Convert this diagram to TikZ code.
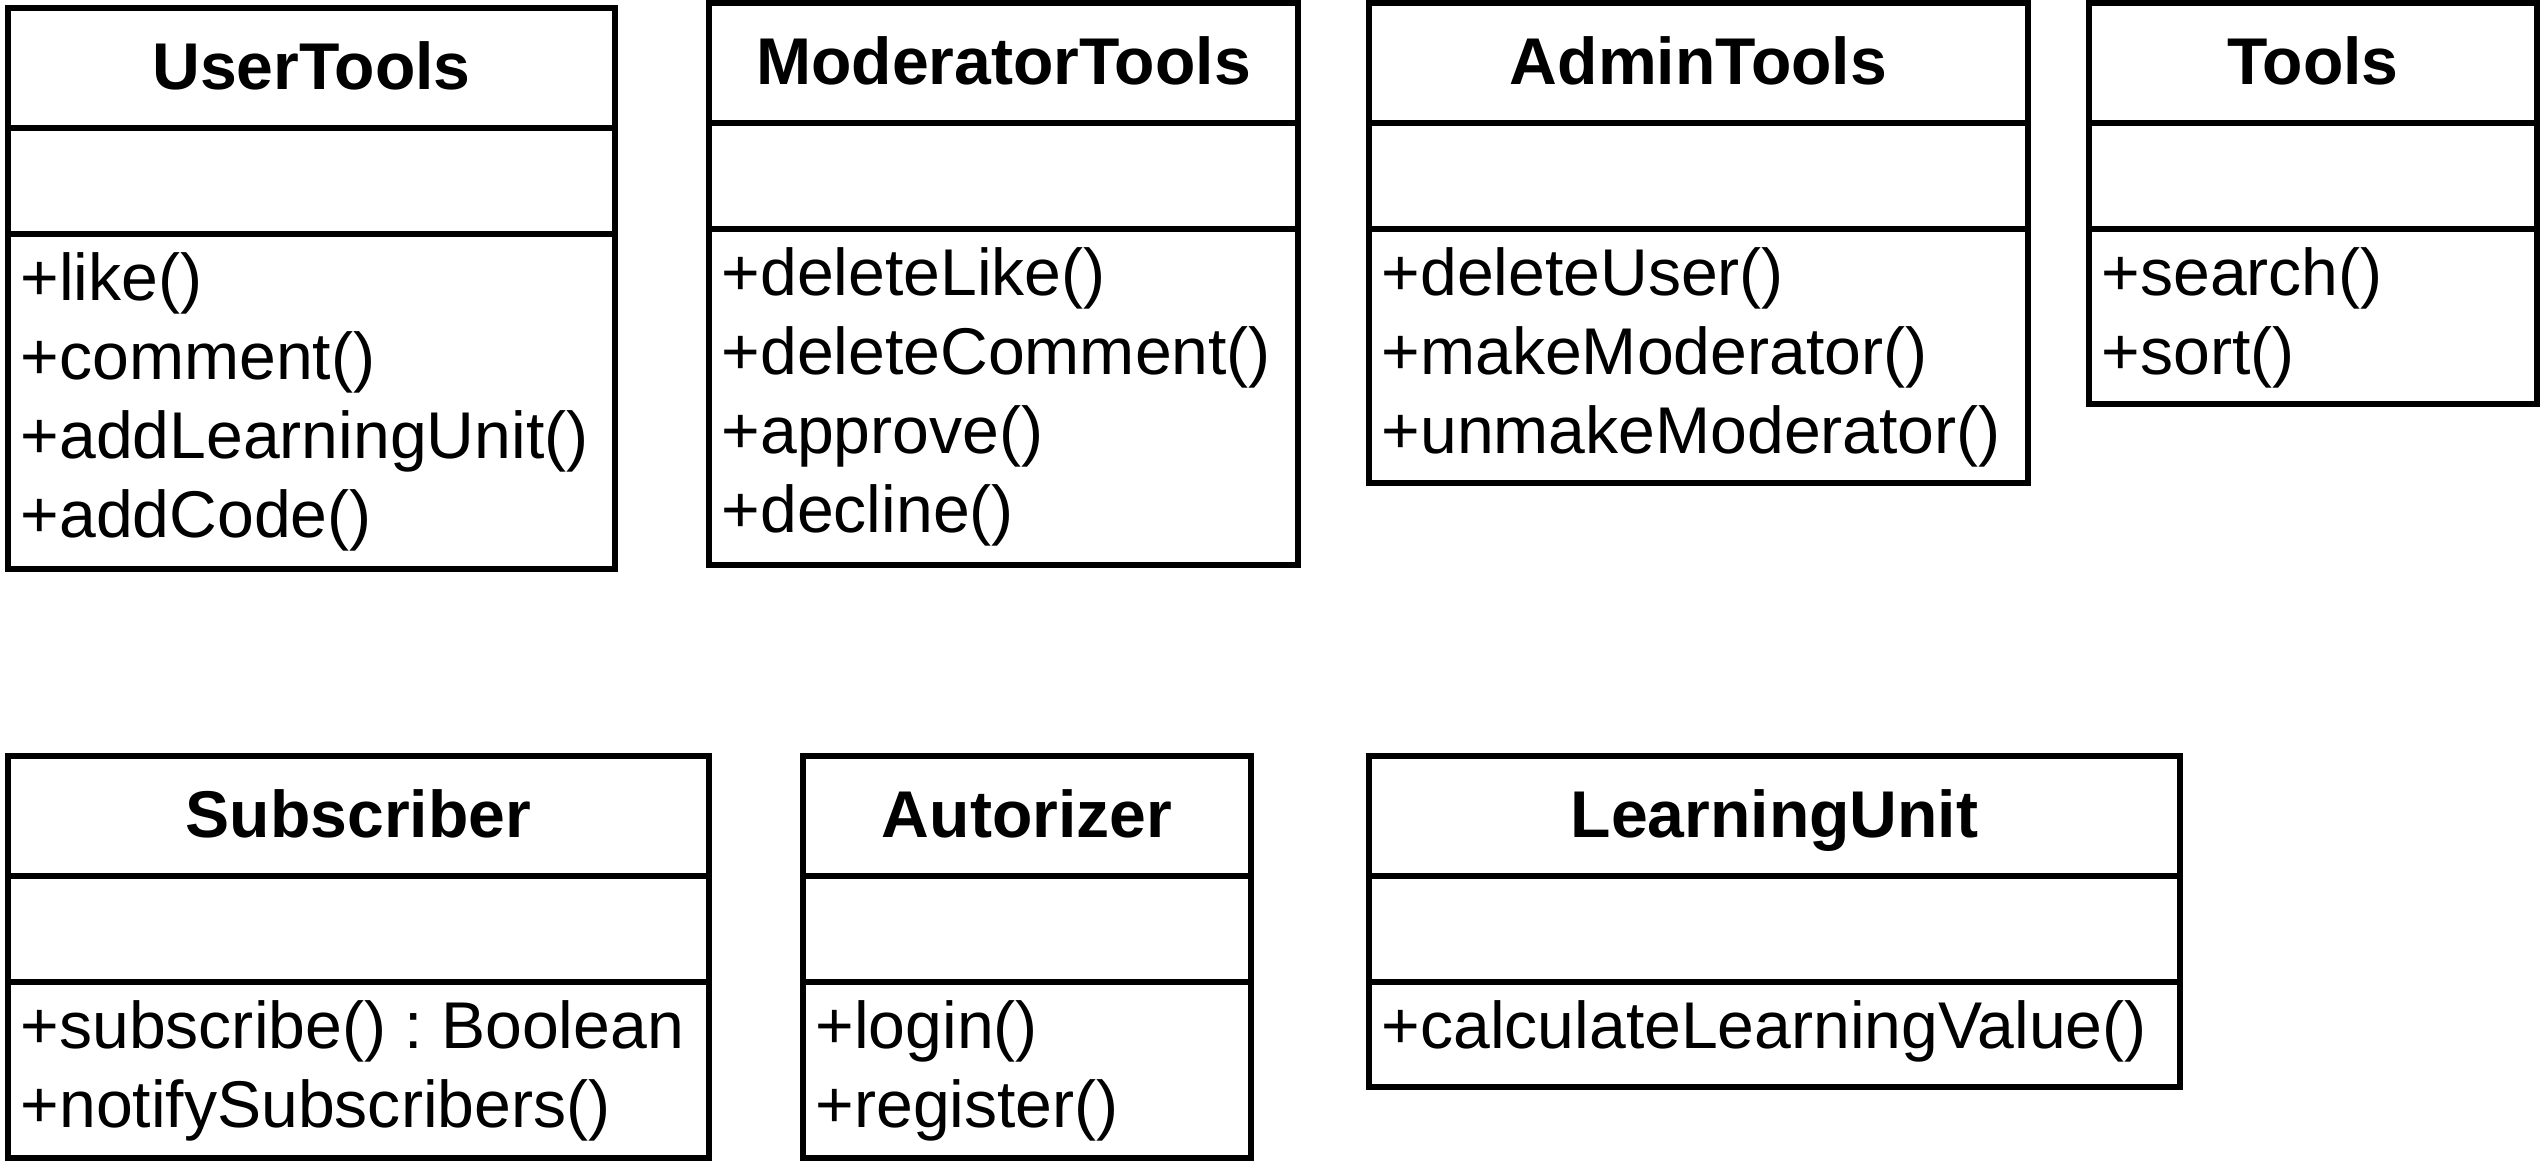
\documentclass[tikz,border=0pt]{standalone}
\usepackage{fontspec}
\setmainfont{Liberation Sans}
\usetikzlibrary{fit}

% One UML class: id, left, top, right, bottom, class name, list of operations
\newcommand{\umlclass}[7]{%
  \node[compart, fit={(#2,#3) (#4,#3+120)}] (#1-head) {};
  \node[compart, fit={(#2,#3+120) (#4,#3+226)}] (#1-attr) {};
  \node[compart, fit={(#2,#3+226) (#4,#5)}] (#1-ops) {};
  \node[classname] (#1-title) at ({(#2+#4)/2},{#3+81}) {#6};
  \foreach \m [count=\i] in {#7}
    \node[opline] (#1-op\i) at ({#2+12},{#3+292+79*\i-79}) {\m};
}

\begin{document}
\frenchspacing
\begin{tikzpicture}[x=0.01cm, y=-0.01cm,
  compart/.style={draw=black, line width=0.06cm, inner sep=0pt, outer sep=0pt},
  classname/.style={font=\fontsize{18.8pt}{22.5pt}\selectfont\bfseries, anchor=base, inner sep=0pt},
  opline/.style={font=\fontsize{18.8pt}{22.5pt}\selectfont, anchor=base west, inner sep=0pt}]

  % canvas
  \path[fill=white, use as bounding box] (0,0) rectangle (2544,1163);

  % top row
  \umlclass{ut}{8}{8}{615}{569}{UserTools}{+like(),+comment(),+addLearningUnit(),+addCode()}
  \umlclass{mt}{709}{3}{1298}{565}{ModeratorTools}{+deleteLike(),+deleteComment(),+approve(),+decline()}
  \umlclass{at}{1369}{3}{2028}{483}{AdminTools}{+deleteUser(),+makeModerator(),+unmakeModerator()}
  \umlclass{tl}{2089}{3}{2537}{404}{Tools}{+search(),+sort()}

  % bottom row
  \umlclass{sb}{8}{756}{709}{1158}{Subscriber}{+subscribe() : Boolean,+notifySubscribers()}
  \umlclass{az}{803}{756}{1251}{1158}{Autorizer}{+login(),+register()}
  \umlclass{lu}{1369}{756}{2180}{1087}{LearningUnit}{+calculateLearningValue()}
\end{tikzpicture}
\end{document}
